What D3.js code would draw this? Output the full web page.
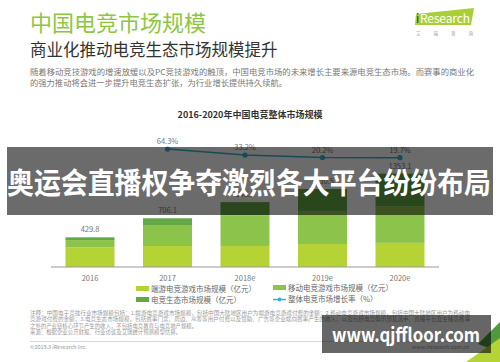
<html lang="zh">
<head>
  <meta charset="utf-8">
  <script src="https://d3js.org/d3.v7.min.js"></script>
  <style>
    body { margin: 0; background: #fff; }
    text { font-family: "Noto Sans CJK SC", "Noto Sans", sans-serif; }
    .axis-label { fill: #777; font-size: 7.5px; }
    .val { fill: #777; font-size: 7.5px; }
    .legend text { fill: #666; font-size: 7.5px; }
    .note { fill: #999; font-size: 5.4px; }
  </style>
</head>
<body>
  <svg width="500" height="362" id="svg-container"></svg>
  <script>
    //DATA
    const years = ["2016", "2017", "2018e", "2019e", "2020e"];
    const pcGame = [283, 304, 305, 333, 350];          // 端游电竞游戏市场规模
    const mobileGame = [107, 305, 445, 480, 530];      // 移动电竞游戏市场规模
    const ecosystem = [39.8, 97.1, 190.5, 317.5, 473.1]; // 电竞生态市场规模
    const totals = [429.8, 706.1, 940.5, 1130.5, 1353.1];
    const growth = [null, 64.3, 33.2, 20.2, 19.7];     // 整体电竞市场增长率 %
    const seriesNames = ["端游电竞游戏市场规模（亿元）", "移动电竞游戏市场规模（亿元）", "电竞生态市场规模（亿元）"];
    const seriesColors = ["#b5d335", "#8cc34b", "#62a845"];
    const lineColor = "#3aaecf";
    //END DATA

    let svg = d3.select("svg#svg-container");

    // header
    svg.append("text").attr("x", 30).attr("y", 31)
      .attr("font-size", 22).attr("fill", "#8dc63f")
      .text("中国电竞市场规模");
    svg.append("text").attr("x", 30).attr("y", 56)
      .attr("font-size", 16.5).attr("fill", "#333")
      .text("商业化推动电竞生态市场规模提升");
    svg.append("text").attr("x", 30).attr("y", 75)
      .attr("font-size", 8).attr("fill", "#777")
      .attr("textLength", 444).attr("lengthAdjust", "spacingAndGlyphs")
      .text("随着移动竞技游戏的增速放缓以及PC竞技游戏的触顶，中国电竞市场的未来增长主要来源电竞生态市场。而赛事的商业化");
    svg.append("text").attr("x", 30).attr("y", 86)
      .attr("font-size", 8).attr("fill", "#777")
      .attr("textLength", 257).attr("lengthAdjust", "spacingAndGlyphs")
      .text("的强力推动将会进一步提升电竞生态扩张，为行业增长提供持久续航。");

    // iResearch logo
    svg.append("polygon").attr("points", "416,14 474,8 471,25 415,25").attr("fill", "#a8cf3a");
    svg.append("text").attr("x", 416).attr("y", 23).attr("font-size", 12)
      .attr("font-family", "Liberation Sans").attr("fill", "#1d3f72").text("i");
    svg.append("text").attr("x", 420).attr("y", 23).attr("font-size", 12)
      .attr("font-family", "Liberation Sans").attr("fill", "#fff")
      .attr("textLength", 50).text("Research");
    svg.append("text").attr("x", 416).attr("y", 35).attr("font-size", 4.5).attr("fill", "#999")
      .attr("textLength", 57).text("艾瑞咨询");

    // chart title
    svg.append("text").attr("x", 250).attr("y", 118).attr("text-anchor", "middle")
      .attr("font-size", 9).attr("font-weight", "bold").attr("fill", "#333")
      .text("2016-2020年中国电竞整体市场规模");

    // scales
    const x = d3.scaleBand().domain(years).range([51.25, 438.75])
      .paddingInner(0.368).paddingOuter(0.184);
    const y = d3.scaleLinear().domain([0, 1400]).range([267, 170.4]);
    const yRate = d3.scaleLinear().domain([0, 100]).range([161.5, 142.2]);

    const table = years.map((yr, i) => ({ year: yr, pc: pcGame[i], mobile: mobileGame[i], eco: ecosystem[i] }));
    const stacked = d3.stack().keys(["pc", "mobile", "eco"])(table);

    const chart = svg.append("g");
    chart.selectAll("g.series").data(stacked).enter()
      .append("g").attr("class", "series")
      .attr("fill", (d, i) => seriesColors[i])
      .selectAll("rect").data(d => d).enter()
      .append("rect")
      .attr("x", d => x(d.data.year))
      .attr("width", x.bandwidth())
      .attr("y", d => y(d[1]))
      .attr("height", d => y(d[0]) - y(d[1]));

    chart.selectAll("text.val").data(totals).enter()
      .append("text").attr("class", "val")
      .attr("x", (d, i) => x(years[i]) + x.bandwidth() / 2)
      .attr("y", d => y(d) - 5)
      .attr("text-anchor", "middle")
      .text(d => d.toFixed(1));

    // x axis
    const xAxis = chart.append("g").attr("transform", "translate(0,267)")
      .call(d3.axisBottom(x).tickSize(0).tickPadding(9));
    xAxis.select(".domain").attr("stroke", "#999").attr("stroke-width", 1).attr("d", "M51,0H439");
    xAxis.selectAll("text").attr("class", "axis-label").attr("font-family", null).attr("font-size", null).attr("fill", null);

    // growth line
    const rates = years.map((yr, i) => ({ year: yr, v: growth[i] })).filter(d => d.v != null);
    const line = d3.line().x(d => x(d.year) + x.bandwidth() / 2).y(d => yRate(d.v));
    chart.append("path").datum(rates).attr("d", line)
      .attr("fill", "none").attr("stroke", lineColor).attr("stroke-width", 1.5);
    chart.selectAll("circle.pt").data(rates).enter().append("circle")
      .attr("cx", d => x(d.year) + x.bandwidth() / 2).attr("cy", d => yRate(d.v))
      .attr("r", 2.6).attr("fill", lineColor);
    chart.selectAll("text.rate").data(rates).enter().append("text")
      .attr("class", "val")
      .attr("x", d => x(d.year) + x.bandwidth() / 2).attr("y", d => yRate(d.v) - 5)
      .attr("text-anchor", "middle").text(d => d.v + "%");

    // legend
    const legend = svg.append("g").attr("class", "legend");
    const legendPos = [[136, 289], [273, 288], [136, 300]];
    legendPos.forEach((p, i) => {
      legend.append("rect").attr("x", p[0]).attr("y", p[1] - 3).attr("width", 13).attr("height", 5)
        .attr("fill", seriesColors[i]);
      legend.append("text").attr("x", p[0] + 15).attr("y", p[1] + 2.5).text(seriesNames[i]);
    });
    legend.append("line").attr("x1", 273).attr("x2", 286).attr("y1", 299.5).attr("y2", 299.5)
      .attr("stroke", lineColor).attr("stroke-width", 1.5);
    legend.append("circle").attr("cx", 279.5).attr("cy", 299.5).attr("r", 2).attr("fill", lineColor);
    legend.append("text").attr("x", 288).attr("y", 302).text("整体电竞市场增长率（%）");

    // notes
    const notes = [
      "注释：中国电子竞技行业市场规模包括：1.端游电竞游戏市场规模，包括中国大陆地区用户为端游电竞游戏付费的金额；2.移动电竞游戏市场规模，包括中国大陆地区用户为移动电",
      "竞游戏付费的金额；3.电竞生态市场规模，包括赛事门票、周边、众筹等用户付费以及赞助、广告等企业端向赛事产生的收入，以及包括电竞俱乐部及选手、直播平台及主播等赛事",
      "之外的产业链核心环节产生的收入，不包括电竞教育与电竞地产规模。",
      "来源：根据企业公开财报、行业访谈及艾瑞统计预测模型估算。"
    ];
    notes.forEach((n, i) => {
      const t = svg.append("text").attr("class", "note").attr("x", 30).attr("y", 315 + i * 6.3).text(n);
      if (i < 2) t.attr("textLength", 440).attr("lengthAdjust", "spacingAndGlyphs");
    });
    svg.append("line").attr("x1", 30).attr("x2", 470).attr("y1", 341.5).attr("y2", 341.5)
      .attr("stroke", "#ccc").attr("stroke-width", 0.8);
    svg.append("text").attr("class", "note").attr("x", 30).attr("y", 349).text("©2019.3 iResearch Inc.");
    svg.append("text").attr("class", "note").attr("x", 412).attr("y", 349).text("www.iresearch.com.cn");

    // corner triangles
    svg.append("polygon").attr("points", "500,322 500,352 478,344").attr("fill", "#4f9a3c");
    svg.append("polygon").attr("points", "500,338 500,362 466,362").attr("fill", "#b5d335");

    // overlay banner
    svg.append("rect").attr("x", 7).attr("y", 147).attr("width", 486).attr("height", 68)
      .attr("fill", "rgba(0,0,0,0.58)");
    svg.append("text").attr("x", 7).attr("y", 193.5)
      .attr("font-size", 29).attr("font-weight", "bold").attr("fill", "#fff")
      .attr("textLength", 484).attr("lengthAdjust", "spacingAndGlyphs")
      .text("奥运会直播权争夺激烈各大平台纷纷布局");

    // watermark
    svg.append("rect").attr("x", 322).attr("y", 315).attr("width", 169).attr("height", 38)
      .attr("fill", "rgba(0,0,0,0.6)");
    svg.append("text").attr("x", 332).attr("y", 342)
      .attr("font-family", "Open Sans, DejaVu Sans, sans-serif")
      .attr("font-size", 19).attr("font-weight", "bold").attr("fill", "#fff")
      .attr("textLength", 148).attr("lengthAdjust", "spacingAndGlyphs")
      .text("www.qjffloor.com");
  </script>
</body>
</html>
